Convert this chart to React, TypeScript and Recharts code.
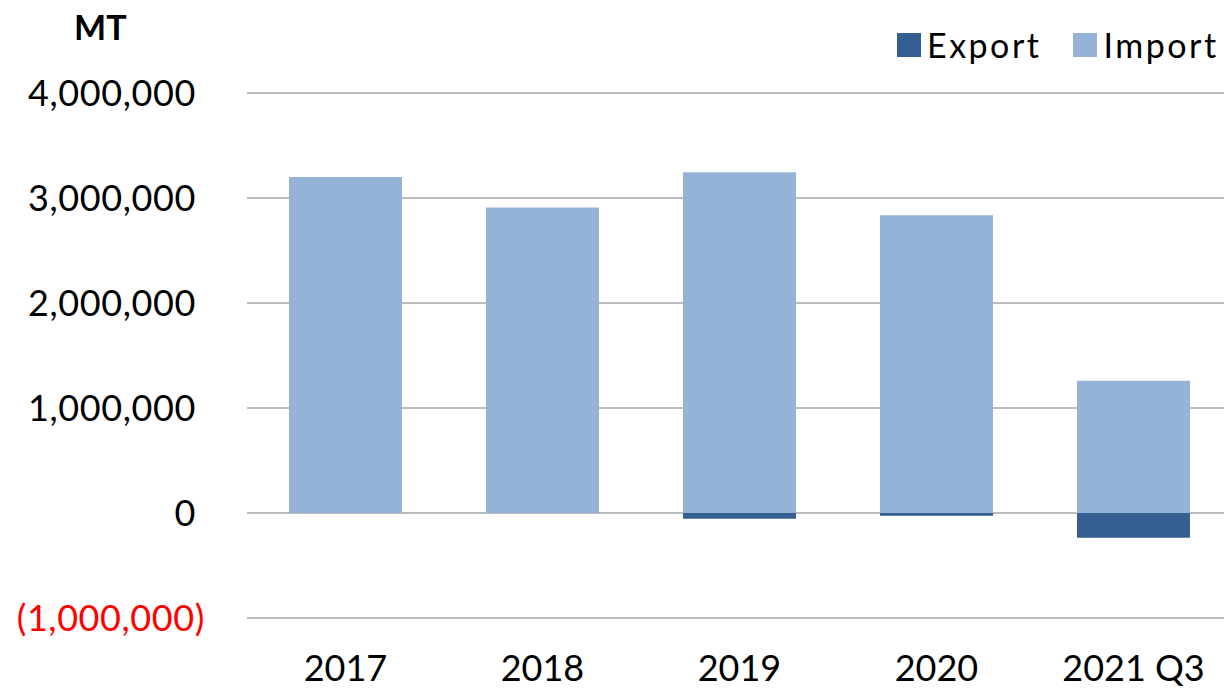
import { BarChart, Bar, XAxis, YAxis, CartesianGrid } from "recharts";

const categories = ["2017", "2018", "2019", "2020", "2021 Q3"];
const importValues = [3200000, 2910000, 3245000, 2835000, 1260000];
const exportValues = [0, 0, -55000, -25000, -235000];
const yTicks = [-1000000, 0, 1000000, 2000000, 3000000, 4000000];

const EXPORT_COLOR = "#355f91";
const IMPORT_COLOR = "#95b3d7";
const FONT = "Lato, 'Open Sans', sans-serif";

const data = categories.map((name, i) => ({
  name,
  Import: importValues[i],
  Export: exportValues[i],
}));

function fmt(v: number) {
  const s = Math.abs(v).toLocaleString("en-US");
  return v < 0 ? `(${s})` : s;
}

// positives keep a trailing gap the width of ")" like the Excel number format
function YTick(props: any) {
  const { x, y, payload } = props;
  const v = payload.value as number;
  return (
    <text
      x={x}
      y={y}
      dx={v < 0 ? 0 : -9}
      dy="0.36em"
      textAnchor="end"
      fontFamily={FONT}
      fontSize={36}
      letterSpacing={0.6}
      fill={v < 0 ? "#ff0000" : "#000000"}
    >
      {fmt(v)}
    </text>
  );
}

function XTick(props: any) {
  const { x, y, payload } = props;
  return (
    <text x={x} y={y} dy="0.72em" textAnchor="middle" fontFamily={FONT} fontSize={36} fill="#000">
      {payload.value}
    </text>
  );
}

export default function App() {
  return (
    <div
      style={{
        position: "absolute",
        left: 0,
        top: 0,
        width: 1224,
        height: 688,
        overflow: "hidden",
        background: "#fff",
        fontFamily: FONT,
      }}
    >
      <div
        style={{
          position: "absolute",
          left: 74,
          top: 6,
          fontSize: 34,
          fontWeight: 700,
          color: "#000",
        }}
      >
        MT
      </div>
      <div
        style={{
          position: "absolute",
          left: 897,
          top: 24,
          display: "flex",
          alignItems: "center",
          fontSize: 34,
          letterSpacing: 2.5,
          color: "#000",
          whiteSpace: "nowrap",
        }}
      >
        <span style={{ width: 24, height: 24, background: EXPORT_COLOR, display: "inline-block", marginRight: 6 }} />
        <span style={{ marginRight: 32 }}>Export</span>
        <span style={{ width: 24, height: 24, background: IMPORT_COLOR, display: "inline-block", marginRight: 6 }} />
        <span>Import</span>
      </div>
      <BarChart
        width={1232}
        height={688}
        data={data}
        stackOffset="sign"
        margin={{ top: 93, right: 0, bottom: 0, left: 0 }}
        barSize={113}
      >
        <CartesianGrid vertical={false} stroke="#a6a6a6" strokeWidth={1.5} />
        <XAxis
          dataKey="name"
          axisLine={false}
          tickLine={false}
          tickSize={0}
          tickMargin={37}
          height={70}
          tick={<XTick />}
        />
        <YAxis
          domain={[-1000000, 4000000]}
          ticks={yTicks}
          width={247}
          axisLine={false}
          tickLine={false}
          tickSize={0}
          tickMargin={42}
          tick={<YTick />}
        />
        <Bar dataKey="Export" stackId="a" fill={EXPORT_COLOR} isAnimationActive={false} />
        <Bar dataKey="Import" stackId="a" fill={IMPORT_COLOR} isAnimationActive={false} />
      </BarChart>
    </div>
  );
}
